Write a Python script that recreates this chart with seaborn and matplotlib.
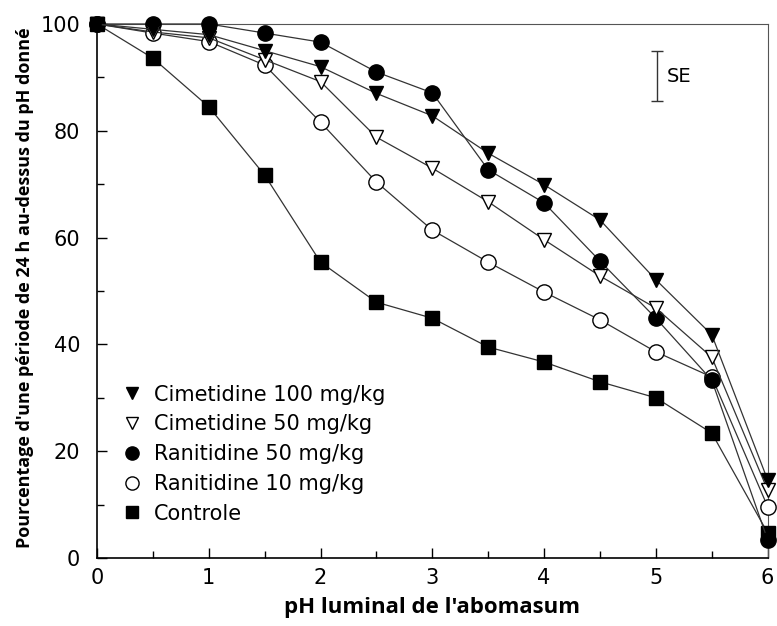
import matplotlib
matplotlib.use("Agg")
import matplotlib.pyplot as plt
from matplotlib.lines import Line2D
from matplotlib.ticker import MultipleLocator
import seaborn as sns
import pandas as pd

ph = [0, 0.5, 1, 1.5, 2, 2.5, 3, 3.5, 4, 4.5, 5, 5.5, 6]
cimetidine_100 = [100, 99, 98, 95, 92, 87, 82.8, 75.8, 69.9, 63.3, 52.1, 41.8, 14.6]
cimetidine_50 = [100, 98.5, 97.4, 93.3, 89.2, 78.8, 73.0, 66.7, 59.6, 52.8, 46.8, 37.6, 12.7]
ranitidine_50 = [100, 100, 100, 98.3, 96.6, 91.0, 87.1, 72.7, 66.5, 55.6, 44.9, 33.3, 3.4]
ranitidine_10 = [100, 98.3, 96.7, 92.3, 81.6, 70.4, 61.4, 55.4, 49.8, 44.6, 38.6, 33.9, 9.6]
controle = [100, 93.6, 84.5, 71.7, 55.4, 47.9, 44.9, 39.5, 36.7, 33.0, 30.0, 23.4, 4.7]

series_names = ["Cimetidine 100 mg/kg", "Cimetidine 50 mg/kg", "Ranitidine 50 mg/kg",
                "Ranitidine 10 mg/kg", "Controle"]
series_values = [cimetidine_100, cimetidine_50, ranitidine_50, ranitidine_10, controle]
x_ticks = [0, 1, 2, 3, 4, 5, 6]
y_ticks = [0, 20, 40, 60, 80, 100]
x_label = "pH luminal de l'abomasum"
y_label = "Pourcentage d'une période de 24 h au-dessus du pH donné"

styles = {
    "Cimetidine 100 mg/kg": dict(marker="v", mfc="black", ms=10, lms=8.5),
    "Cimetidine 50 mg/kg": dict(marker="v", mfc="white", ms=10, lms=8.5),
    "Ranitidine 50 mg/kg": dict(marker="o", mfc="black", ms=11, lms=9.5),
    "Ranitidine 10 mg/kg": dict(marker="o", mfc="white", ms=11, lms=9.5),
    "Controle": dict(marker="s", mfc="black", ms=9.5, lms=8),
}

rows = []
for name, vals in zip(series_names, series_values):
    for x, y in zip(ph, vals):
        rows.append({"pH": x, "pct": y, "serie": name})
df = pd.DataFrame(rows)

sns.set_style("ticks")
plt.rcParams["font.family"] = ["DejaVu Sans"]
plt.rcParams["text.color"] = "black"
plt.rcParams["xtick.color"] = "black"
plt.rcParams["ytick.color"] = "black"
plt.rcParams["axes.labelcolor"] = "black"

fig = plt.figure(figsize=(7.77, 6.26), dpi=100)
ax = fig.add_axes([0.1248, 0.1086, 0.8632, 0.8531])

for name in series_names[::-1]:
    st = styles[name]
    sns.lineplot(data=df[df["serie"] == name], x="pH", y="pct", ax=ax,
                 color="#333333", linewidth=0.9, marker=st["marker"],
                 markersize=st["ms"], markerfacecolor=st["mfc"],
                 markeredgecolor="black", markeredgewidth=1.0,
                 legend=False, zorder=3)

ax.set_xlim(0, 6)
ax.set_ylim(0, 100)
ax.set_xticks(x_ticks)
ax.set_yticks(y_ticks)
ax.xaxis.set_minor_locator(MultipleLocator(0.5))
ax.yaxis.set_minor_locator(MultipleLocator(10))
ax.tick_params(axis="both", which="both", direction="in", top=False, right=False,
               labelsize=15, colors="black")
ax.tick_params(axis="x", which="major", pad=7)
ax.tick_params(axis="y", which="major", pad=12)
ax.tick_params(which="major", length=7, width=1)
ax.tick_params(which="minor", length=5, width=1)
for s in ["left", "bottom"]:
    ax.spines[s].set_linewidth(1.2)
    ax.spines[s].set_color("black")
for s in ["top", "right"]:
    ax.spines[s].set_linewidth(0.8)
    ax.spines[s].set_color("#555555")
for ln in ax.lines:
    ln.set_clip_on(False)

ax.set_xlabel(x_label, fontsize=16, fontweight="bold", family=["Open Sans", "DejaVu Sans"])
ax.set_ylabel(y_label, fontsize=13, fontweight="bold", family=["Open Sans", "DejaVu Sans"])
ax.xaxis.set_label_coords(0.5, -0.073)
ax.yaxis.set_label_coords(-0.094, 0.506)

handles = []
for name in series_names:
    st = styles[name]
    handles.append(Line2D([], [], linestyle="none", marker=st["marker"],
                          markersize=st["lms"], markerfacecolor=st["mfc"],
                          markeredgecolor="black", markeredgewidth=1.0))
ax.legend(handles, series_names, loc="lower left", bbox_to_anchor=(0.015, 0.037),
          frameon=False, fontsize=15, handlelength=1.0, handletextpad=0.55,
          labelspacing=0.47, borderaxespad=0.3)

# SE bar
ax.errorbar([5.01], [90.25], yerr=[[4.65], [4.65]], fmt="none", ecolor="#333333",
            elinewidth=1.0, capsize=4, capthick=1.0)
ax.text(5.1, 90.2, "SE", fontsize=14, va="center", ha="left")

fig.savefig("out.png", dpi=100)
